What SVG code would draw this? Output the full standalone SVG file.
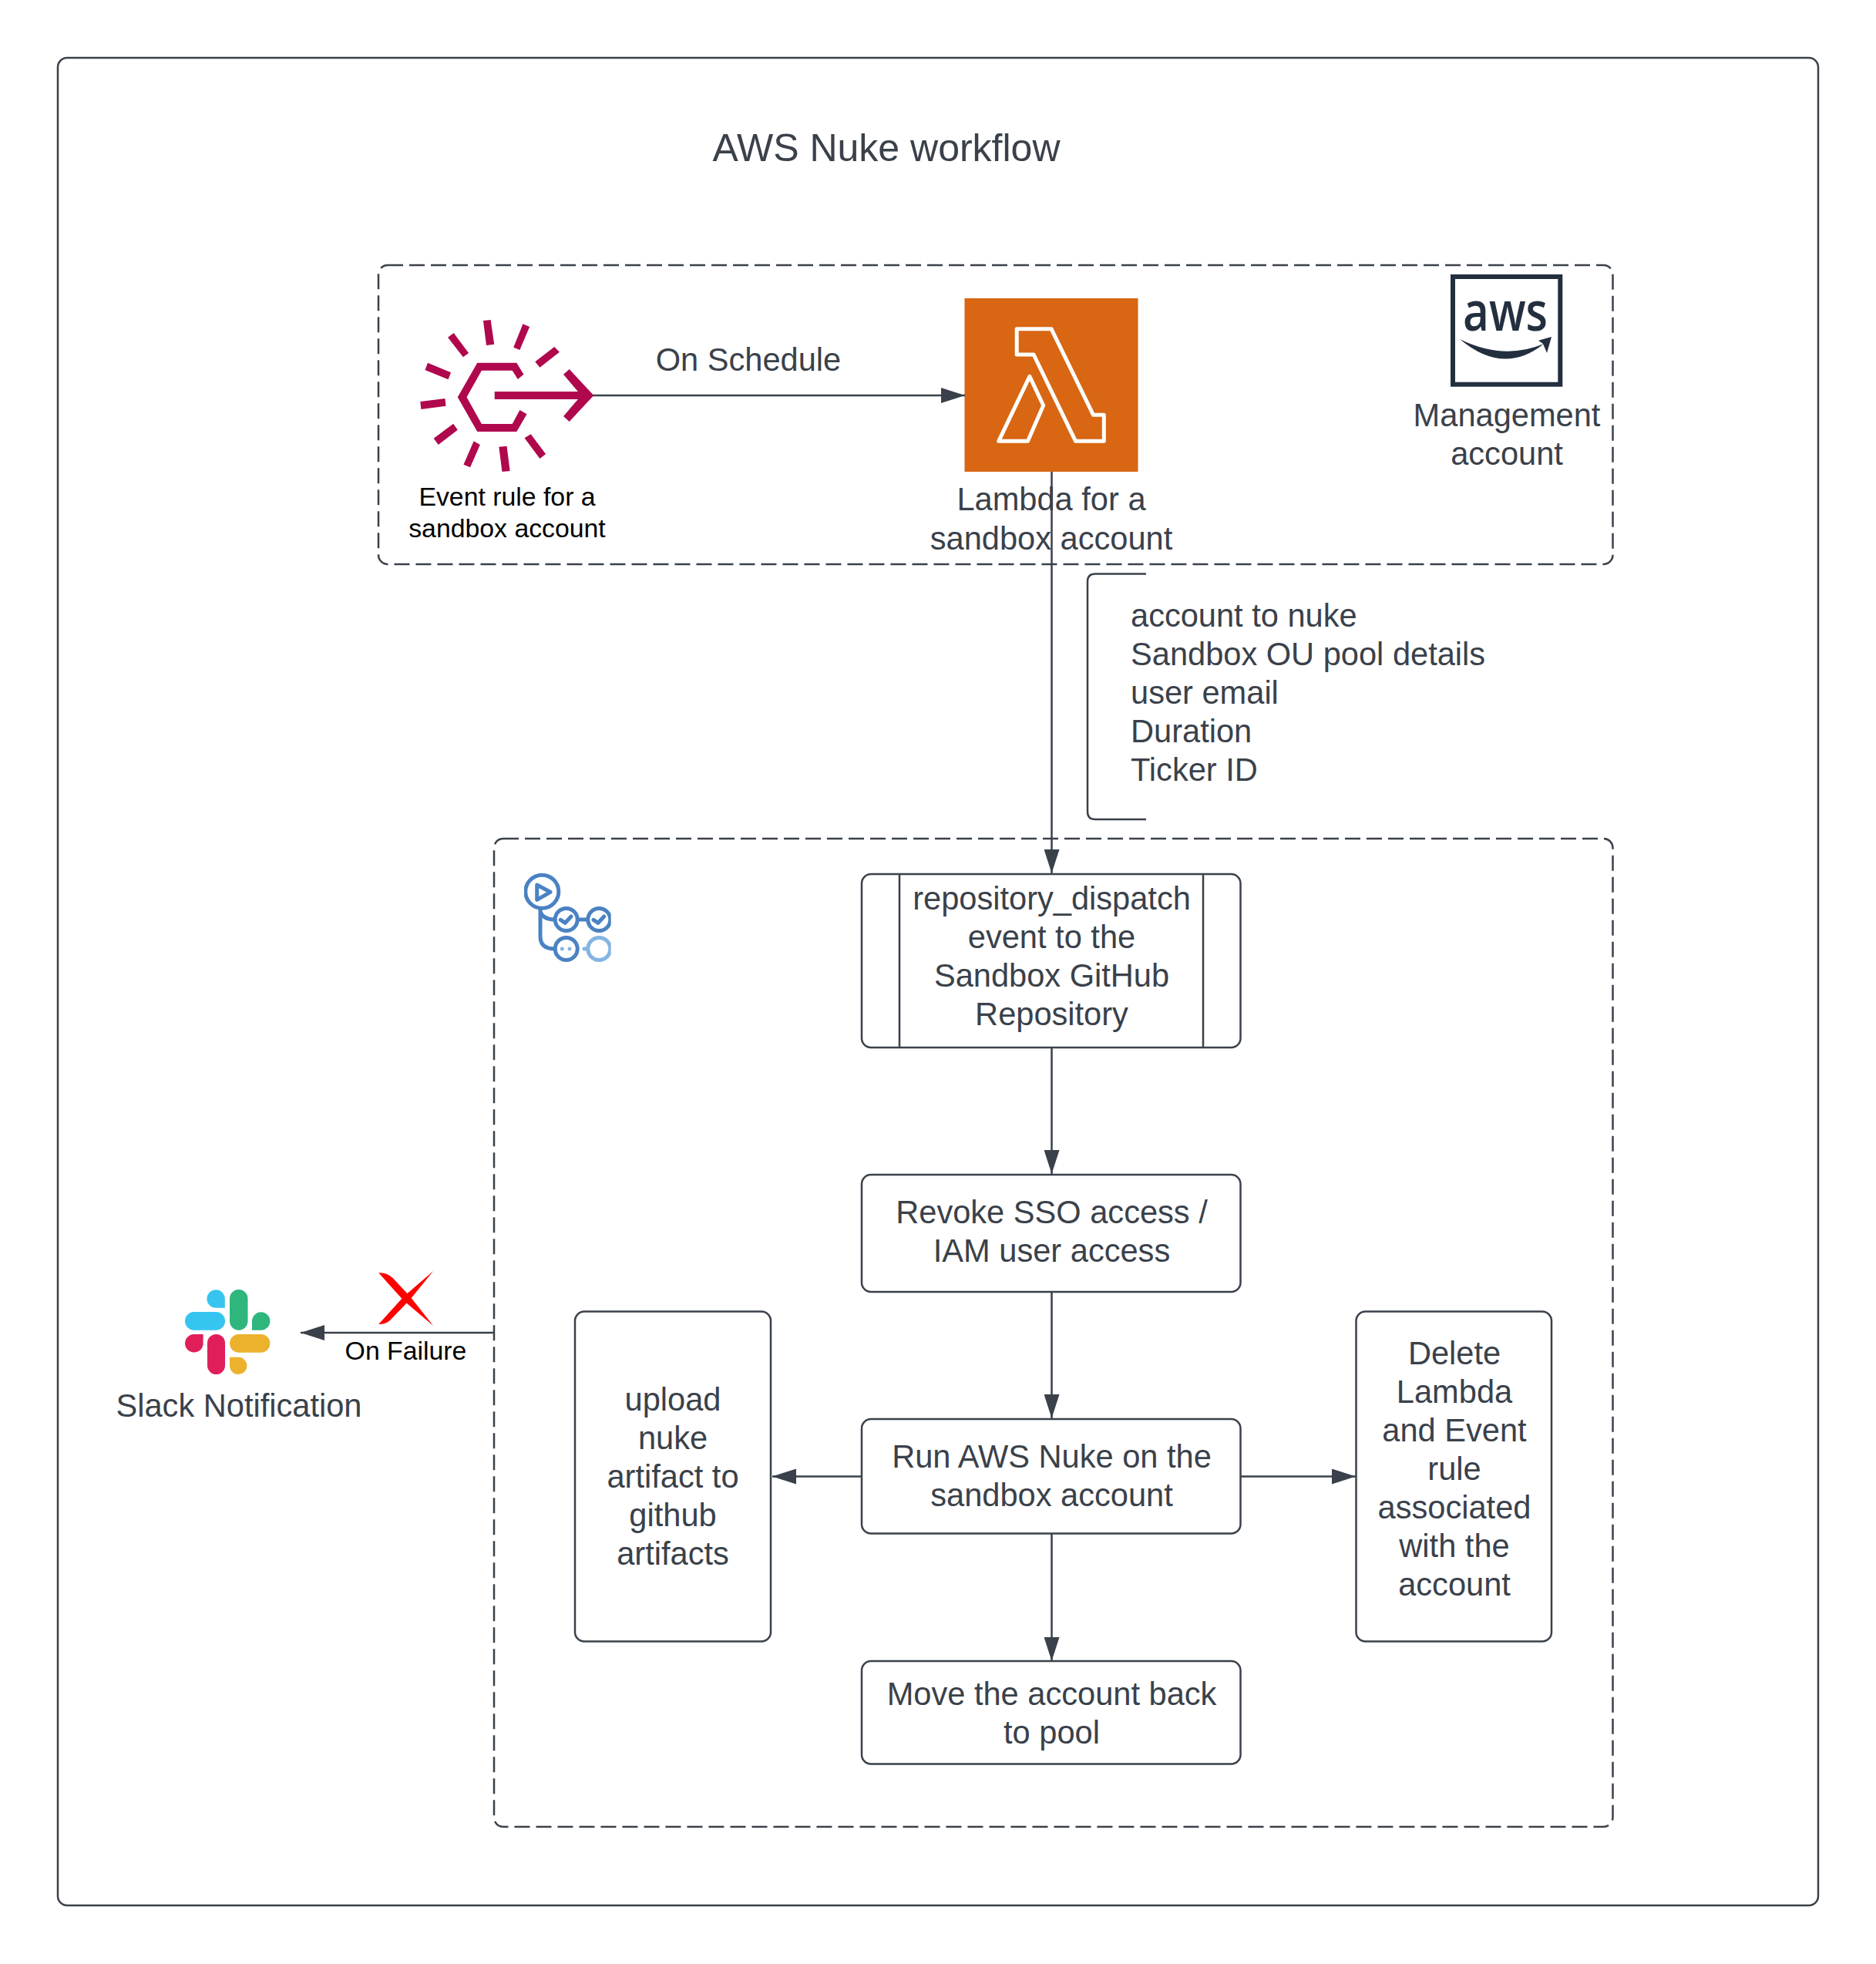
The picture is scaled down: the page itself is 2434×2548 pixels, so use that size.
<svg xmlns="http://www.w3.org/2000/svg" width="2434" height="2548" viewBox="0 0 2434 2548">
<style>
text{font-family:"Liberation Sans",Arial,sans-serif;fill:#3a414a;font-size:41.600px;text-anchor:middle}
.s{font-size:33.800px;fill:#000}
.l{text-anchor:start}
.box{fill:#fff;stroke:#3a414a;stroke-width:2.500}
.dash{fill:none;stroke:#3a414a;stroke-width:2.500;stroke-dasharray:20 8}
.con{fill:none;stroke:#3a414a;stroke-width:2.500;marker-end:url(#arr)}
.ln{fill:none;stroke:#3a414a;stroke-width:2.500}
.gh{fill:none;stroke:#4a82c3;stroke-width:5;stroke-linecap:round;stroke-linejoin:round}
.gl{fill:none;stroke:#84b5e3;stroke-width:5;stroke-linecap:round}
</style>
<defs>
<marker id="arr" markerUnits="userSpaceOnUse" markerWidth="31" markerHeight="20" refX="31" refY="10" orient="auto"><path d="M0 0L31 10L0 20Z" fill="#3a414a"/></marker>
<clipPath id="ghc"><rect x="680" y="1130" width="112.700" height="130"/></clipPath>
</defs>
<rect width="2434" height="2548" fill="#fff"/>
<g id="frame"><rect x="75" y="75" width="2284" height="2397" rx="12" fill="#fff" stroke="#3a414a" stroke-width="2.500"/></g>
<g id="title"><text x="1150" y="209" style="font-size:50px">AWS Nuke workflow</text></g>
<g id="management-zone"><rect class="dash" x="491" y="344" width="1601.500" height="388" rx="12"/></g>
<g id="github-zone"><rect class="dash" x="641" y="1088" width="1451.500" height="1282" rx="12"/></g>
<g id="event-rule">
<g transform="translate(480.500 330) scale(.5102 .3333)" fill="#b0084d">
<path d="M287 258L306 255L315 350L295 354ZM388 271L405 282L380 372L364 362ZM468 360L481 380L431 440L419 418ZM212 306L250 384L236 400L197 323ZM146 422L205 460L198 487L139 450ZM127 573L190 561L192 590L129 603ZM211 659L222 683L173 741L161 716ZM263 727L279 741L254 829L237 818ZM327 749L347 746L355 843L335 846ZM408 700L446 777L431 795L392 715Z"/>
<path d="M390 467L372 422L272 422L222 556L272 690L372 690L398 622L380 606L361 660L283 660L245 556L283 452L361 452L375 486Z"/>
<path d="M316 534H528L491 467L506 447L568 549L506 651L491 630L528 564H316Z"/>
</g>
<text class="s" x="658" y="655.500">Event rule for a</text>
<text class="s" x="658" y="696.500">sandbox account</text>
</g>
<g id="lambda">
<rect x="1251.500" y="387" width="225" height="225" fill="#d86613"/>
<path d="M1319.200 426.700H1364L1418.500 538.300H1432.300V572.300H1395.500L1341.100 460H1319.200ZM1335.900 488.300L1353.700 526L1333.500 572.300H1295.700Z" fill="none" stroke="#fff" stroke-width="5" stroke-linejoin="round"/>
<text x="1364" y="662">Lambda for a</text>
<text x="1364" y="712.500">sandbox account</text>
</g>
<g id="aws">
<rect x="1885" y="359" width="139.300" height="139.700" fill="#fff" stroke="#232f3e" stroke-width="6"/>
<text x="1898" y="429" textLength="110" lengthAdjust="spacingAndGlyphs" style="font-size:70px;font-weight:600;fill:#232f3e;text-anchor:start;font-family:'Open Sans','Liberation Sans',sans-serif">aws</text>
<path d="M1894 440Q1951 468 2003 446Q1951 488 1894 440ZM1996 441.700L2013 437L2007 458L2002 446Z" fill="#232f3e"/>
<text x="1955" y="552.500">Management</text>
<text x="1955" y="602.500">account</text>
</g>
<g id="bracket-note">
<path class="ln" d="M1487 744.500H1421Q1411 744.500 1411 754.500V1053Q1411 1063 1421 1063H1487"/>
<text class="l" x="1467" y="813">account to nuke</text>
<text class="l" x="1467" y="863">Sandbox OU pool details</text>
<text class="l" x="1467" y="913">user email</text>
<text class="l" x="1467" y="963">Duration</text>
<text class="l" x="1467" y="1013">Ticker ID</text>
</g>
<g id="github-actions">
<g clip-path="url(#ghc)">
<circle class="gh" cx="703.300" cy="1156.700" r="21.500"/>
<path class="gh" d="M696.700 1148L714 1157.300L696.700 1167.300Z"/>
<path class="gh" d="M701 1180V1215Q701 1231 720 1231M701 1183Q705 1193 720 1193M751 1193H762"/>
<circle class="gh" cx="734.700" cy="1193" r="14.500"/>
<circle class="gh" cx="777.300" cy="1193" r="14.500"/>
<circle class="gh" cx="734.700" cy="1231" r="14.500"/>
<path class="gh" d="M727.300 1193.300L733.300 1197.300L741 1189M770 1193.300L776 1197.300L783.700 1189"/>
<circle cx="729.300" cy="1231" r="2.500" fill="#84b5e3"/>
<circle cx="739" cy="1231" r="2.500" fill="#84b5e3"/>
<path class="gl" d="M758 1231H760"/>
<circle class="gl" cx="777.300" cy="1231" r="14.500"/>
</g>
</g>
<g id="connectors">
<path class="con" d="M769 513H1252"/>
<path class="con" d="M1364.500 612V1133"/>
<path class="con" d="M1364.500 1359V1523"/>
<path class="con" d="M1364.500 1676V1840"/>
<path class="con" d="M1364.500 1990V2155"/>
<path class="con" d="M1118 1915.500H1002"/>
<path class="con" d="M1610 1915.500H1759"/>
<path class="con" d="M641 1729H390"/>
</g>
<g id="dispatch">
<rect class="box" x="1118" y="1134" width="491.500" height="225" rx="12"/>
<path class="ln" d="M1167 1134V1359M1561 1134V1359"/>
<text x="1364.500" y="1180">repository_dispatch</text>
<text x="1364.500" y="1230">event to the</text>
<text x="1364.500" y="1280">Sandbox GitHub</text>
<text x="1364.500" y="1330">Repository</text>
</g>
<g id="revoke">
<rect class="box" x="1118" y="1524" width="491.500" height="152" rx="12"/>
<text x="1364.500" y="1587">Revoke SSO access /</text>
<text x="1364.500" y="1637">IAM user access</text>
</g>
<g id="run-nuke">
<rect class="box" x="1118" y="1841" width="491.500" height="148.500" rx="12"/>
<text x="1364.500" y="1904">Run AWS Nuke on the</text>
<text x="1364.500" y="1954">sandbox account</text>
</g>
<g id="move-account">
<rect class="box" x="1118" y="2155" width="491.500" height="133.500" rx="12"/>
<text x="1364.500" y="2211.500">Move the account back</text>
<text x="1364.500" y="2261.500">to pool</text>
</g>
<g id="upload">
<rect class="box" x="746" y="1701.500" width="254" height="428" rx="12"/>
<text x="873" y="1829.500">upload</text>
<text x="873" y="1879.500">nuke</text>
<text x="873" y="1929.500">artifact to</text>
<text x="873" y="1979.500">github</text>
<text x="873" y="2029.500">artifacts</text>
</g>
<g id="delete">
<rect class="box" x="1759.500" y="1701.500" width="253.500" height="428" rx="12"/>
<text x="1887" y="1769.500">Delete</text>
<text x="1887" y="1819.500">Lambda</text>
<text x="1887" y="1869.500">and Event</text>
<text x="1887" y="1919.500">rule</text>
<text x="1887" y="1969.500">associated</text>
<text x="1887" y="2019.500">with the</text>
<text x="1887" y="2069.500">account</text>
</g>
<g id="failure">
<g transform="translate(131 1619) scale(.3444 .3333)" fill="#f00">
<path d="M1046 97Q1078 95 1100 118L1165 190L1252 303L1140 205Z"/>
<path d="M1046 297Q1078 299 1100 270L1165 200L1252 90L1140 190Z"/>
</g>
<text class="s" x="526.500" y="1764">On Failure</text>
</g>
<g id="on-schedule"><text x="971" y="481">On Schedule</text></g>
<g id="slack">
<path d="M291.800 1696.700H280.500A11.700 11.700 0 1 1 291.800 1685Z" fill="#36c5f0"/>
<rect x="240" y="1702" width="52" height="23.700" rx="11.800" fill="#36c5f0"/>
<rect x="298" y="1673" width="23.500" height="52.700" rx="11.700" fill="#2eb67d"/>
<path d="M327 1725.700V1713.900A11.700 11.700 0 1 1 338.700 1725.700Z" fill="#2eb67d"/>
<path d="M263.600 1731V1743A11.800 11.800 0 1 1 251.800 1731Z" fill="#e01e5a"/>
<rect x="269" y="1731" width="23" height="52" rx="11.500" fill="#e01e5a"/>
<rect x="298" y="1731" width="52.400" height="23.700" rx="11.800" fill="#ecb22e"/>
<path d="M298 1760.700H309.800A11.200 11.200 0 1 1 298 1772Z" fill="#ecb22e"/>
<text x="310" y="1838">Slack Notification</text>
</g>
</svg>
